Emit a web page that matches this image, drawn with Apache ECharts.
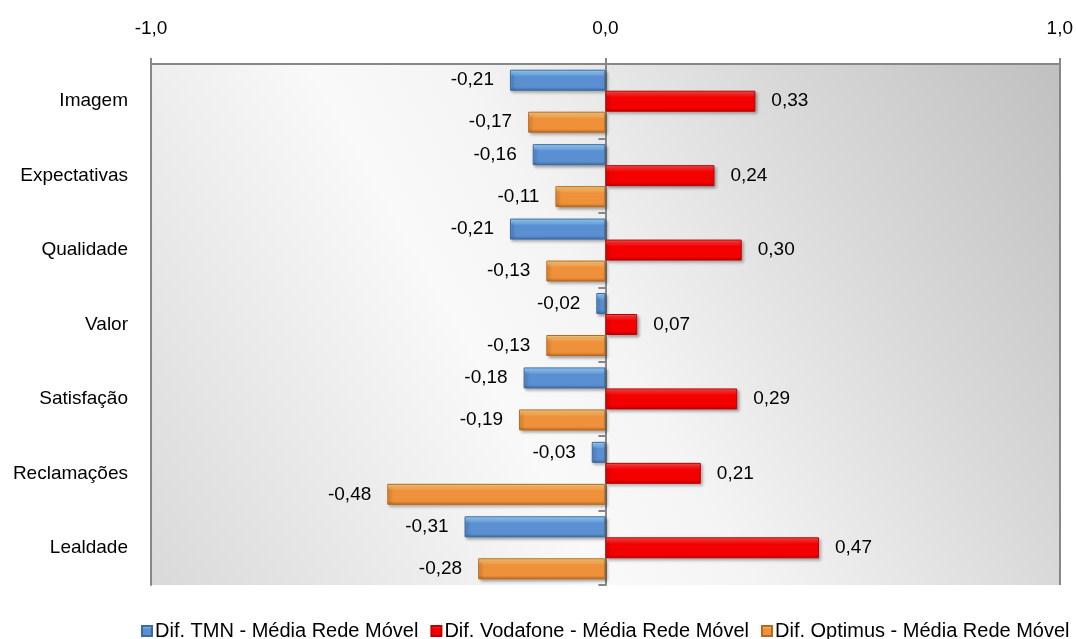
<!DOCTYPE html>
<html>
<head>
<meta charset="utf-8">
<script src="https://cdn.jsdelivr.net/npm/echarts@6/dist/echarts.min.js"></script>
<style>
  html, body { margin: 0; padding: 0; background: #ffffff; }
  #chart { width: 1076px; height: 639px; }
</style>
</head>
<body>
<div id="chart"></div>
<script>
// Indicadores (de cima para baixo)
const categories = ['Imagem', 'Expectativas', 'Qualidade', 'Valor', 'Satisfação', 'Reclamações', 'Lealdade'];

// Diferenças face à média da rede móvel
const seriesNames = [
  'Dif. TMN - Média Rede Móvel',
  'Dif. Vodafone - Média Rede Móvel',
  'Dif. Optimus - Média Rede Móvel'
];
const difTMN      = [-0.21, -0.16, -0.21, -0.02, -0.18, -0.03, -0.31];
const difVodafone = [ 0.33,  0.24,  0.30,  0.07,  0.29,  0.21,  0.47];
const difOptimus  = [-0.17, -0.11, -0.13, -0.13, -0.19, -0.48, -0.28];

// Escala do eixo de valores
const axisMin = -1;
const axisMax = 1;
const axisStep = 1;

const FONT = "'Liberation Sans', Arial, sans-serif";
const AXIS_GREY = '#878787';

function fmt(v) {
  return v.toFixed(2).replace('.', ',');
}

// Bisel simples: faixa clara em cima, corpo, aresta escura em baixo
function bevel(light, mid, body, dark) {
  return new echarts.graphic.LinearGradient(0, 0, 0, 1, [
    { offset: 0, color: light },
    { offset: 0.18, color: mid },
    { offset: 0.32, color: body },
    { offset: 0.82, color: body },
    { offset: 1, color: dark }
  ]);
}

const styles = [
  { fill: bevel('#a9dcff', '#7db9f0', '#5a8fd2', '#3f6ea8'), border: '#3d6aa2' },
  { fill: bevel('#ff5a5a', '#ff2020', '#f40000', '#b80000'), border: '#c00000' },
  { fill: bevel('#ffd88a', '#fbb45e', '#ef913a', '#c06a1e'), border: '#b8691f' }
];

function makeSeries(name, values, idx, side) {
  return {
    name: name,
    type: 'bar',
    data: values,
    barWidth: 21,
    barGap: '0%',
    itemStyle: {
      color: styles[idx].fill,
      borderColor: styles[idx].border,
      borderWidth: 1,
      shadowColor: 'rgba(0,0,0,0.35)',
      shadowBlur: 3,
      shadowOffsetX: 2,
      shadowOffsetY: 2
    },
    label: {
      show: true,
      position: side,
      distance: 16,
      color: '#000',
      fontFamily: FONT,
      fontSize: 19,
      formatter: p => fmt(p.value)
    }
  };
}

const series = [
  makeSeries(seriesNames[0], difTMN, 0, 'left'),
  makeSeries(seriesNames[1], difVodafone, 1, 'right'),
  makeSeries(seriesNames[2], difOptimus, 2, 'left')
];

// Limite direito da área do gráfico
series[0].markLine = {
  silent: true,
  symbol: 'none',
  label: { show: false },
  lineStyle: { color: AXIS_GREY, width: 2, type: 'solid' },
  data: [{ xAxis: axisMax }]
};

const chart = echarts.init(document.getElementById('chart'), null, { renderer: 'canvas' });

chart.setOption({
  animation: false,
  backgroundColor: '#ffffff',
  textStyle: { fontFamily: FONT, color: '#000' },
  grid: {
    left: 151,
    right: 16,
    top: 64,
    bottom: 54,
    show: true,
    borderWidth: 0,
    backgroundColor: new echarts.graphic.LinearGradient(0, 1, 1, 0, [
      { offset: 0, color: '#d9d9d9' },
      { offset: 0.38, color: '#f9f9f9' },
      { offset: 0.5, color: '#f4f4f4' },
      { offset: 0.75, color: '#d9d9d9' },
      { offset: 1, color: '#c0c0c0' }
    ])
  },
  legend: {
    data: seriesNames,
    left: 136,
    top: 616,
    icon: 'rect',
    itemWidth: 10,
    itemHeight: 10,
    itemGap: 12,
    textStyle: { fontFamily: FONT, fontSize: 20, color: '#000', padding: [0, 0, 0, -2] }
  },
  xAxis: {
    type: 'value',
    position: 'top',
    min: axisMin,
    max: axisMax,
    interval: axisStep,
    axisLine: { show: true, onZero: false, lineStyle: { color: AXIS_GREY, width: 2 } },
    axisTick: { show: true, length: 6, lineStyle: { color: AXIS_GREY, width: 2 } },
    splitLine: { show: false },
    axisLabel: {
      margin: 26,
      fontFamily: FONT,
      fontSize: 19,
      color: '#000',
      formatter: v => v.toFixed(1).replace('.', ',')
    }
  },
  yAxis: [
    {
      type: 'category',
      data: categories,
      inverse: true,
      position: 'left',
      axisLine: { show: true, onZero: false, lineStyle: { color: AXIS_GREY, width: 2 } },
      axisTick: { show: false },
      axisLabel: { margin: 23, fontFamily: FONT, fontSize: 19, color: '#000' }
    },
    {
      type: 'category',
      data: categories,
      inverse: true,
      position: 'right',
      axisLine: { show: true, onZero: true, lineStyle: { color: AXIS_GREY, width: 2 } },
      axisTick: { show: true, inside: true, length: 7, lineStyle: { color: AXIS_GREY, width: 2 } },
      axisLabel: { show: false }
    }
  ],
  series: series
});
</script>
</body>
</html>
